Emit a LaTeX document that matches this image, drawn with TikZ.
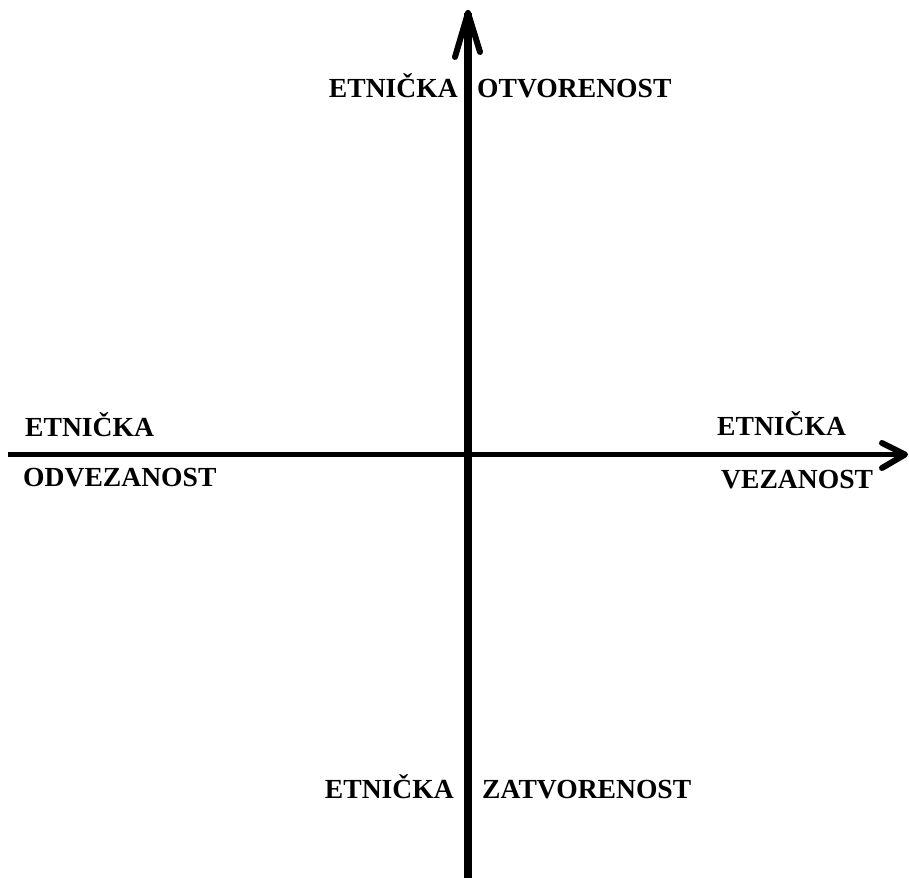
\documentclass[tikz,border=0pt]{standalone}
\usepackage{fontspec}
\setmainfont{Liberation Serif}
\begin{document}
\begin{tikzpicture}[x=1pt,y=1pt,
  lbl/.style={inner sep=0pt, font=\fontsize{27.6}{32}\selectfont\bfseries},
  axisline/.style={line width=5pt},
  tiphead/.style={line width=6pt, line cap=round, line join=round}]
\fill[white] (0,0) rectangle (909,877);
\useasboundingbox (0,0) rectangle (909,877);
% axes coordinates
\coordinate (vbot) at (468,-6);
\coordinate (vtip) at (468,864);
\coordinate (vl) at (455,820);
\coordinate (vr) at (480,825);
\coordinate (hleft) at (8,422.5);
\coordinate (htip) at (905,422.5);
\coordinate (hu) at (882,434);
\coordinate (hd) at (882,409);
% vertical axis
\draw[line width=8pt] (vbot) -- (vtip);
\draw[tiphead] (vl) -- (vtip) -- (vr);
% horizontal axis
\draw[axisline] (hleft) -- (htip);
\draw[tiphead] (hu) -- (htip) -- (hd);
% labels
\node[lbl, anchor=base east] (t1) at (458,779) {ETNIČKA};
\node[lbl, anchor=base west] (t2) at (477,779) {OTVORENOST};
\node[lbl, anchor=base west] (l1) at (25,440) {ETNIČKA};
\node[lbl, anchor=base west] (l2) at (23,390.5) {ODVEZANOST};
\node[lbl, anchor=base west] (r1) at (717,441) {ETNIČKA};
\node[lbl, anchor=base west] (r2) at (721,388) {VEZANOST};
\node[lbl, anchor=base east] (b1) at (454,78) {ETNIČKA};
\node[lbl, anchor=base west] (b2) at (482,78) {ZATVORENOST};
\end{tikzpicture}
\end{document}
